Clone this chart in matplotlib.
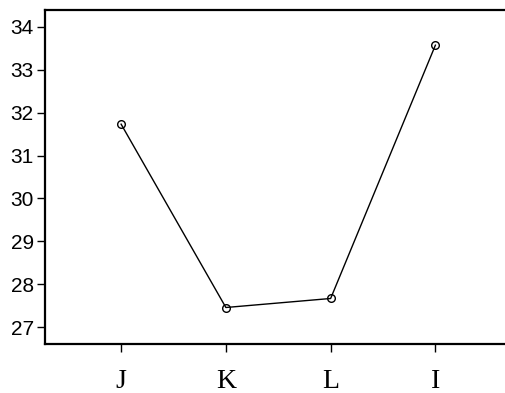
import matplotlib
matplotlib.use('Agg')
import matplotlib.pyplot as plt

# datos
categorias = ['J', 'K', 'L', 'I']
valores = [31.73, 27.46, 27.67, 33.57]
posiciones = [1, 2, 3, 4]

fig = plt.figure(figsize=(5.06, 3.93), dpi=100)
ax = fig.add_axes([0.0899, 0.1247, 0.9101, 0.8499])

ax.plot(posiciones, valores, color='black', lw=1.0, marker='o', ms=5.5,
        mfc='none', mec='black', mew=1.0)

ax.set_xlim(0.278, 4.674)
ax.set_ylim(26.61, 34.39)
ax.set_yticks(range(27, 35))
ax.set_xticks(posiciones)
ax.set_xticklabels(categorias, fontfamily='Liberation Serif', fontsize=20)
for t in ax.get_yticklabels():
    t.set_fontfamily('Liberation Sans')
    t.set_fontsize(15)

ax.tick_params(axis='y', length=6, width=1.0, pad=2.5)
ax.tick_params(axis='x', length=6, width=1.0, pad=12)
for s in ['left', 'bottom', 'top']:
    ax.spines[s].set_linewidth(1.6)
ax.spines['right'].set_visible(False)

plt.savefig('out.png', dpi=100)
